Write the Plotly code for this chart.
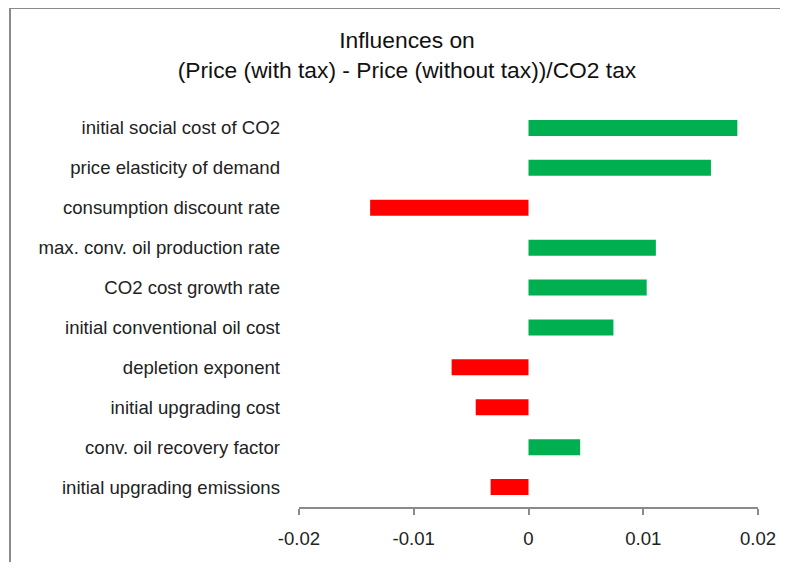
import plotly.graph_objects as go

categories = [
    "initial social cost of CO2",
    "price elasticity of demand",
    "consumption discount rate",
    "max. conv. oil production rate",
    "CO2 cost growth rate",
    "initial conventional oil cost",
    "depletion exponent",
    "initial upgrading cost",
    "conv. oil recovery factor",
    "initial upgrading emissions",
]
values = [0.0182, 0.0159, -0.0138, 0.0111, 0.0103, 0.0074, -0.0067, -0.0046, 0.0045, -0.0033]
tick_vals = [-0.02, -0.01, 0, 0.01, 0.02]
tick_text = ["-0.02", "-0.01", "0", "0.01", "0.02"]
title_lines = ["Influences on", "(Price (with tax) - Price (without tax))/CO2 tax"]

GREEN = "#00B050"
RED = "#FF0000"
colors = [GREEN if v >= 0 else RED for v in values]

# page body has an 8px margin
OFF = 8
W, H = 780, 554
ml, mr, mt, mb = 299 - OFF, W - (758 - OFF), 108 - OFF, H - (507 - OFF)
pw = W - ml - mr
ph = H - mt - mb

fig = go.Figure(go.Bar(
    x=values, y=categories, orientation="h",
    marker=dict(color=colors, line=dict(width=0)),
    width=0.4,
))

def px_to_paper_x(px):
    return (px - OFF - ml) / pw

def px_to_paper_y(py):
    return (H - mb - (py - OFF)) / ph

frame_style = dict(color="#8a8a8a", width=2)
# frame lines kept inside the figure area
bx0, bx1 = px_to_paper_x(10), px_to_paper_x(W + OFF)
by_top, by_bot = px_to_paper_y(8), px_to_paper_y(H + OFF)

fig.update_layout(
    width=W, height=H,
    margin=dict(l=ml, r=mr, t=mt, b=mb, pad=0, autoexpand=False),
    paper_bgcolor="white", plot_bgcolor="white",
    font=dict(family="Liberation Sans, Arial, sans-serif", size=18.6, color="#222222"),
    showlegend=False,
    title=dict(
        text="<br>".join(title_lines),
        x=px_to_paper_x(407), xref="paper", xanchor="center",
        y=1 - 40 / H, yref="container", yanchor="top",
        font=dict(size=22.8, color="#111111"),
    ),
    xaxis=dict(
        range=[-0.02, 0.02], tickvals=tick_vals, ticktext=tick_text,
        showgrid=False, zeroline=False, automargin=False,
        showline=True, linecolor="#8a8a8a", linewidth=1.5,
        ticks="outside", ticklen=6, tickcolor="#8a8a8a", tickwidth=1.5,
        ticklabelstandoff=8,
    ),
    yaxis=dict(
        categoryorder="array", categoryarray=categories, autorange="reversed",
        showgrid=False, zeroline=False, showline=False, ticks="", automargin=False,
        ticklabelstandoff=18,
    ),
    shapes=[
        dict(type="line", xref="paper", yref="paper",
             x0=bx0, x1=bx0, y0=by_bot, y1=by_top, line=frame_style, layer="below"),
        dict(type="line", xref="paper", yref="paper",
             x0=bx0, x1=bx1, y0=by_top, y1=by_top, line=frame_style, layer="below"),
    ],
)

fig.write_html("out.html")
